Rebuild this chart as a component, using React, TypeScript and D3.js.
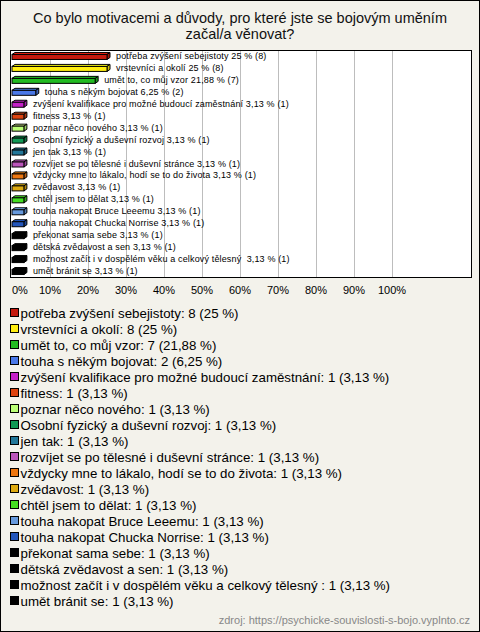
import React from "react";
import * as d3 from "d3";

const titleLines = ["Co bylo motivacemi a důvody, pro které jste se bojovým uměním", "začal/a věnovat?"];

const categories = [
  "potřeba zvýšení sebejistoty",
  "vrstevníci a okolí",
  "umět to, co můj vzor",
  "touha s někým bojovat",
  "zvýšení kvalifikace pro možné budoucí zaměstnání",
  "fitness",
  "poznar něco nového",
  "Osobní fyzický a duševní rozvoj",
  "jen tak",
  "rozvíjet se po tělesné i duševní stránce",
  "vždycky mne to lákalo, hodí se to do života",
  "zvědavost",
  "chtěl jsem to dělat",
  "touha nakopat Bruce Leeemu",
  "touha nakopat Chucka Norrise",
  "překonat sama sebe",
  "dětská zvědavost a sen",
  "možnost začít i v dospělém věku a celkový tělesný ",
  "umět bránit se",
];

const counts = [8, 8, 7, 2, 1, 1, 1, 1, 1, 1, 1, 1, 1, 1, 1, 1, 1, 1, 1];
const percentLabels = ["25", "25", "21,88", "6,25", "3,13", "3,13", "3,13", "3,13", "3,13", "3,13", "3,13", "3,13", "3,13", "3,13", "3,13", "3,13", "3,13", "3,13", "3,13"];
const percents = [25, 25, 21.88, 6.25, 3.13, 3.13, 3.13, 3.13, 3.13, 3.13, 3.13, 3.13, 3.13, 3.13, 3.13, 3.13, 3.13, 3.13, 3.13];

const colors = [
  "#c41a0e", "#ffee11", "#22bb22", "#4a78e8", "#c420c8", "#dd4411", "#bbff77",
  "#119955", "#227799", "#bb55bb", "#ee7711", "#ddaa11", "#44dd22", "#6699dd",
  "#2255bb", "#000000", "#000000", "#000000", "#000000",
];

const ticks = [0, 10, 20, 30, 40, 50, 60, 70, 80, 90, 100];

const W = 480;
const H = 632;
const font = "'Liberation Sans', Arial, sans-serif";

export default function App() {
  const x = d3.scaleLinear().domain([0, 100]).range([12, 392]);
  const y = d3.scaleBand<number>().domain(d3.range(categories.length)).range([50, 277]);
  const depth = 3;
  const barH = 5;

  return (
    <div style={{ position: "absolute", left: 0, top: 0 }}>
      <svg width={W} height={H} style={{ display: "block" }}>
        <rect x={0.5} y={0.5} width={W - 1} height={H - 1} fill="#f3f2eb" stroke="#000" />
        {titleLines.map((t, i) => (
          <text key={i} x={240} y={23 + i * 16} textAnchor="middle" fontFamily={font} fontSize={14.5} fill="#111">
            {t}
          </text>
        ))}
        <rect x={10.5} y={50.5} width={461} height={227} fill="#fff" stroke="none" />
        {ticks.slice(1).map((t) => (
          <line key={t} x1={Math.round(x(t)) + 0.5} x2={Math.round(x(t)) + 0.5} y1={51} y2={277} stroke="#bdbdbd" />
        ))}
        {categories.map((c, i) => {
          const yc = (y(i) as number) + y.bandwidth() / 2 + 1;
          const x0 = x(0);
          const x1 = x(percents[i]);
          const top = yc - barH / 2;
          const bot = yc + barH / 2;
          const col = colors[i];
          const light = d3.color(col)!.brighter(0.5).formatHex();
          const dark = d3.color(col)!.darker(0.6).formatHex();
          return (
            <g key={i}>
              <polygon
                points={`${x0},${top} ${x0 + depth},${top - depth + 1} ${x1 + depth},${top - depth + 1} ${x1},${top}`}
                fill={light}
                stroke="#000"
                strokeWidth={1}
              />
              <polygon
                points={`${x1},${top} ${x1 + depth},${top - depth + 1} ${x1 + depth},${bot - depth + 1} ${x1},${bot}`}
                fill={dark}
                stroke="#000"
                strokeWidth={1}
              />
              <rect x={x0} y={top} width={x1 - x0} height={barH} fill={col} stroke="#000" strokeWidth={1} />
              <text
                x={x1 + 9}
                y={yc + 2}
                fontFamily={font}
                fontSize={9}
                letterSpacing={0.15}
                fill="#000"
                style={{ whiteSpace: "pre" }}
              >
                {`${c} ${percentLabels[i]} % (${counts[i]})`}
              </text>
            </g>
          );
        })}
        <rect x={10.5} y={50.5} width={461} height={227} fill="none" stroke="#000" />
        {ticks.map((t) => (
          <text
            key={t}
            x={t === 0 ? 12 : x(t)}
            y={294}
            textAnchor={t === 0 ? "start" : "middle"}
            fontFamily={font}
            fontSize={11}
            fill="#000"
          >
            {`${t}%`}
          </text>
        ))}
        {categories.map((c, i) => {
          const yc = 313 + i * 16;
          return (
            <g key={i}>
              <rect x={10.5} y={yc - 4.5} width={8} height={8} fill={colors[i]} stroke="#000" />
              <text x={20.5} y={yc + 5} fontFamily={font} fontSize={13.3} fill="#000" style={{ whiteSpace: "pre" }}>
                {`${c}: ${counts[i]} (${percentLabels[i]} %)`}
              </text>
            </g>
          );
        })}
        <text x={470} y={624} textAnchor="end" fontFamily={font} fontSize={11} fill="#888">
          zdroj: https://psychicke-souvislosti-s-bojo.vyplnto.cz
        </text>
      </svg>
    </div>
  );
}
